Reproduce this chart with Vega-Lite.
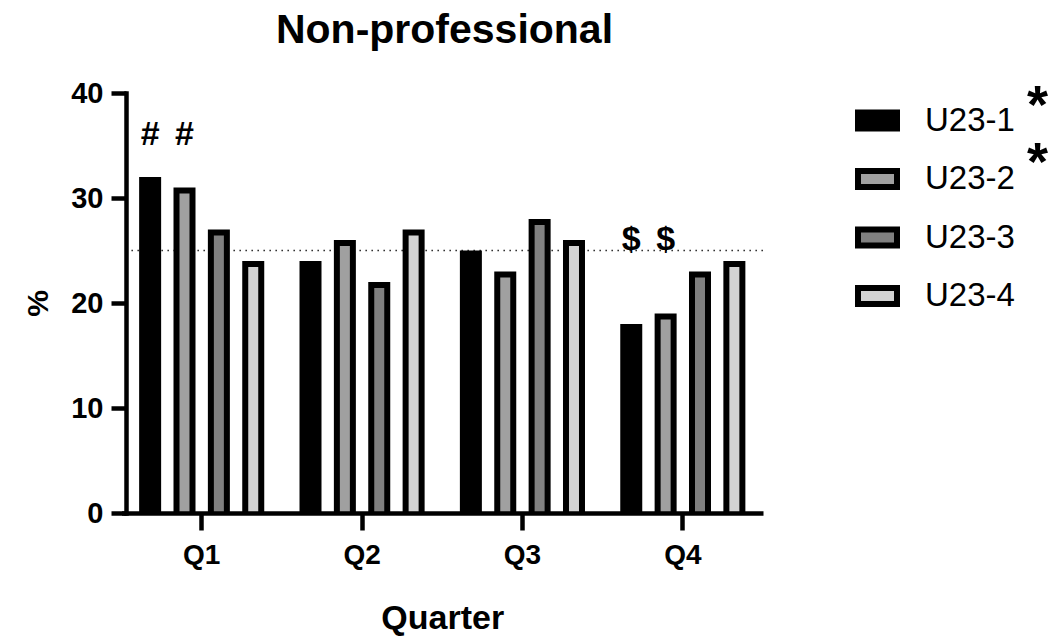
{
  "$schema": "https://vega.github.io/schema/vega-lite/v6.json",
  "width": 637,
  "height": 420,
  "autosize": {"type": "none"},
  "padding": {"left": 126, "top": 93, "right": 298, "bottom": 126},
  "background": "white",
  "config": {
    "font": "Liberation Sans",
    "view": {"stroke": null}
  },
  "title": {
    "text": "Non-professional",
    "fontSize": 41,
    "fontWeight": "bold",
    "color": "black",
    "anchor": "middle",
    "frame": "group",
    "offset": 27
  },
  "datasets": {
    "shares": [
      {"quarter": "Q1", "group": "U23-1", "pct": 32},
      {"quarter": "Q1", "group": "U23-2", "pct": 31},
      {"quarter": "Q1", "group": "U23-3", "pct": 27},
      {"quarter": "Q1", "group": "U23-4", "pct": 24},
      {"quarter": "Q2", "group": "U23-1", "pct": 24},
      {"quarter": "Q2", "group": "U23-2", "pct": 26},
      {"quarter": "Q2", "group": "U23-3", "pct": 22},
      {"quarter": "Q2", "group": "U23-4", "pct": 27},
      {"quarter": "Q3", "group": "U23-1", "pct": 25},
      {"quarter": "Q3", "group": "U23-2", "pct": 23},
      {"quarter": "Q3", "group": "U23-3", "pct": 28},
      {"quarter": "Q3", "group": "U23-4", "pct": 26},
      {"quarter": "Q4", "group": "U23-1", "pct": 18},
      {"quarter": "Q4", "group": "U23-2", "pct": 19},
      {"quarter": "Q4", "group": "U23-3", "pct": 23},
      {"quarter": "Q4", "group": "U23-4", "pct": 24}
    ],
    "signs": [
      {"quarter": "Q1", "group": "U23-1", "sign": "#"},
      {"quarter": "Q1", "group": "U23-2", "sign": "#"},
      {"quarter": "Q4", "group": "U23-1", "sign": "$"},
      {"quarter": "Q4", "group": "U23-2", "sign": "$"}
    ],
    "overall": [
      {"flagged": "U23-1"},
      {"flagged": "U23-2"}
    ],
    "reference": [
      {"level": 25}
    ]
  },
  "layer": [
    {
      "data": {"name": "reference"},
      "mark": {"type": "rule", "color": "#333333", "strokeWidth": 1.6, "strokeDash": [1.6, 4.4]},
      "encoding": {
        "y": {"field": "level", "type": "quantitative"}
      }
    },
    {
      "data": {"name": "shares"},
      "mark": {"type": "bar", "width": 22, "color": "black"},
      "encoding": {
        "x": {
          "field": "quarter",
          "type": "nominal",
          "scale": {"range": [-4.5, 637], "paddingInner": 0, "paddingOuter": 0},
          "title": "Quarter",
          "axis": {
            "domainColor": "black",
            "domainWidth": 4.5,
            "tickColor": "black",
            "tickWidth": 4.5,
            "tickSize": 17,
            "labelAngle": 0,
            "labelFontSize": 28,
            "labelFontWeight": "bold",
            "labelColor": "black",
            "labelPadding": 11,
            "titleFontSize": 34,
            "titleFontWeight": "bold",
            "titleColor": "black",
            "titlePadding": 32,
            "zindex": 1
          }
        },
        "xOffset": {
          "field": "group",
          "type": "nominal",
          "scale": {"paddingInner": 0, "paddingOuter": 0.333}
        },
        "y": {
          "field": "pct",
          "type": "quantitative",
          "scale": {"domain": [0, 40], "nice": false},
          "title": "%",
          "axis": {
            "values": [0, 10, 20, 30, 40],
            "grid": false,
            "domainColor": "black",
            "domainWidth": 4.5,
            "domainCap": "square",
            "tickColor": "black",
            "tickWidth": 4.5,
            "tickSize": 15,
            "labelFontSize": 29,
            "labelFontWeight": "bold",
            "labelColor": "black",
            "labelPadding": 8,
            "titleFontSize": 30,
            "titleFontWeight": "bold",
            "titleColor": "black",
            "titlePadding": 17,
            "zindex": 1
          }
        }
      }
    },
    {
      "data": {"name": "shares"},
      "mark": {"type": "bar", "width": 10, "yOffset": 6, "y2Offset": 0},
      "encoding": {
        "x": {"field": "quarter", "type": "nominal"},
        "xOffset": {"field": "group", "type": "nominal"},
        "y": {"field": "pct", "type": "quantitative"},
        "y2": {"datum": 0},
        "color": {
          "field": "group",
          "type": "nominal",
          "scale": {
            "domain": ["U23-1", "U23-2", "U23-3", "U23-4"],
            "range": ["#000000", "#a0a0a0", "#808080", "#d3d3d3"]
          },
          "legend": {
            "orient": "none",
            "legendX": 729,
            "legendY": 5,
            "title": null,
            "symbolType": "M-1,-0.41H1V0.41H-1Z",
            "symbolSize": 1521,
            "symbolStrokeColor": "black",
            "symbolStrokeWidth": 6,
            "symbolOpacity": 1,
            "labelFont": "Liberation Sans",
            "labelFontSize": 33,
            "labelColor": "black",
            "labelOffset": 25,
            "rowPadding": 15.5
          }
        }
      }
    },
    {
      "data": {"name": "signs"},
      "transform": [{"filter": "datum.sign === '#'"}],
      "mark": {"type": "text", "fontSize": 34, "fontWeight": "bold", "color": "black", "baseline": "middle"},
      "encoding": {
        "x": {"field": "quarter", "type": "nominal"},
        "xOffset": {"field": "group", "type": "nominal"},
        "y": {"datum": 36},
        "text": {"field": "sign"}
      }
    },
    {
      "data": {"name": "signs"},
      "transform": [{"filter": "datum.sign === '$'"}],
      "mark": {"type": "text", "fontSize": 34, "fontWeight": "bold", "color": "black", "baseline": "middle"},
      "encoding": {
        "x": {"field": "quarter", "type": "nominal"},
        "xOffset": {"field": "group", "type": "nominal"},
        "y": {"datum": 26},
        "text": {"field": "sign"}
      }
    },
    {
      "data": {"name": "overall"},
      "mark": {"type": "point", "opacity": 0},
      "encoding": {
        "shape": {
          "field": "flagged",
          "type": "nominal",
          "legend": {
            "orient": "none",
            "legendX": 847,
            "legendY": -13,
            "title": null,
            "symbolOpacity": 0,
            "symbolSize": 1,
            "labelExpr": "'*'",
            "labelFont": "Liberation Sans",
            "labelFontSize": 54,
            "labelFontWeight": "bold",
            "labelColor": "black",
            "labelOffset": 0,
            "rowPadding": 3
          }
        }
      }
    }
  ]
}
